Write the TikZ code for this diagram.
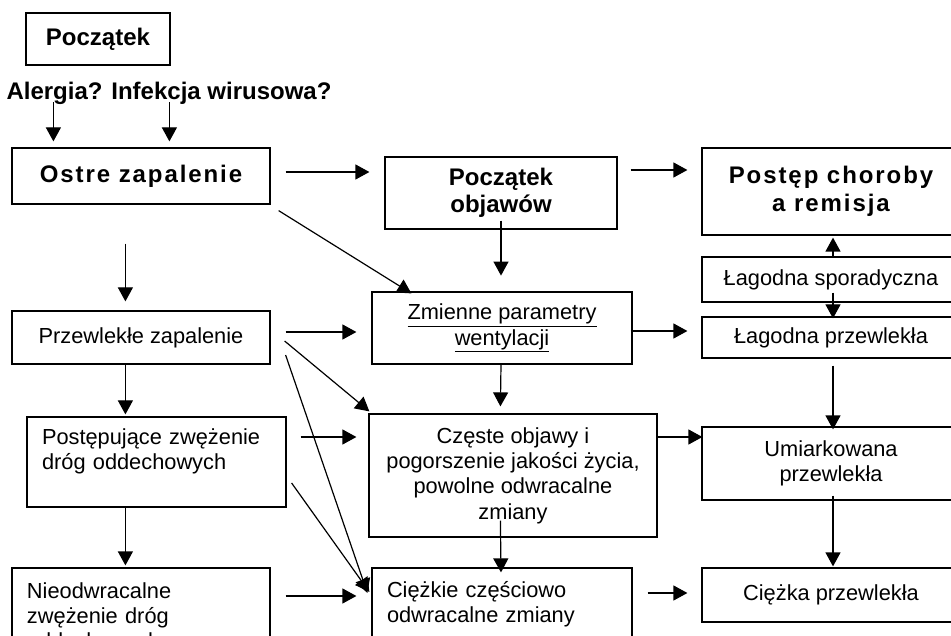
\documentclass[tikz,border=0pt]{standalone}
\usepackage{fontspec}
\setmainfont{Liberation Sans}
\newfontfamily\spacedfont[LetterSpace=8]{Liberation Sans}
\usetikzlibrary{arrows.meta,calc}
\begin{document}
\begin{tikzpicture}[x=1pt,y=-1pt,
  box/.style={draw=black, line width=1.2pt, rectangle, inner sep=0pt, align=center},
  reg/.style={font=\fontsize{21.8}{25.3}\selectfont},
  bld/.style={font=\fontsize{24}{27.5}\selectfont\bfseries},
  spc/.style={font=\fontsize{24}{27.5}\selectfont\spacedfont\bfseries},
  arr/.style={-{Triangle[length=14pt,width=15pt]}, line width=1.2pt},
]
\useasboundingbox (0,0) rectangle (951,636);
\clip (0,0) rectangle (951,636);

% boxes
\node[box,bld,minimum width=144pt,minimum height=52pt] (pocz) at (98,39) {Początek};
\node[bld,inner sep=0pt] (alergia) at (169,93) {Alergia? Infekcja wirusowa?};
\node[box,spc,minimum width=258pt,minimum height=56pt] (ostre) at (141,176) {Ostre zapalenie};
\node[box,bld,minimum width=232pt,minimum height=72pt] (objawy) at (501,193) {Początek\\objawów};
\node[box,spc,minimum width=258pt,minimum height=87pt] (postep) at (831,191.5) {Postęp choroby\\a remisja};
\node[box,reg,minimum width=258pt,minimum height=45pt] (spor) at (831,279.5) {Łagodna sporadyczna};
\node[box,reg,minimum width=258pt,minimum height=41pt] (lprz) at (831,337.5) {Łagodna przewlekła};
\node[box,reg,minimum width=260pt,minimum height=72pt] (zmienne) at (502,328) {\underline{Zmienne parametry}\\\underline{wentylacji}};
\node[box,reg,minimum width=258pt,minimum height=53pt] (przew) at (141,337.5) {Przewlekłe zapalenie};
\node[box,reg,minimum width=259pt,minimum height=90pt,text width=229pt,align=left] (postepuj) at (156.5,462) {Postępujące zwężenie\\dróg oddechowych\\~};
\node[box,reg,minimum width=288pt,minimum height=123pt] (czeste) at (513,475.5) {Częste objawy i\\pogorszenie jakości życia,\\powolne odwracalne\\zmiany};
\node[box,reg,minimum width=258pt,minimum height=73pt] (umiark) at (831,463.5) {Umiarkowana\\przewlekła};
\node[box,reg,minimum width=258pt,minimum height=100pt,text width=228pt,align=left] (nieodw) at (141,618) {Nieodwracalne\\zwężenie dróg\\oddechowych};
\node[box,reg,minimum width=260pt,minimum height=73pt,text width=230pt,align=left] (ciezkie) at (502,604.5) {Ciężkie częściowo\\odwracalne zmiany};
\node[box,reg,minimum width=258pt,minimum height=54pt] (ciezka) at (831,595) {Ciężka przewlekła};

% connectors
\draw[arr] ($(ostre.north west)+(42,-45)$) -- ($(ostre.north west)+(42,-6)$);
\draw[arr] ($(ostre.north west)+(158,-45)$) -- ($(ostre.north west)+(158,-6)$);
\draw[arr] ($(ostre.east)+(15,-4)$) -- ($(objawy.west)+(-15,-21)$);
\draw[arr] ($(objawy.east)+(13,-23)$) -- ($(postep.west)+(-14,-21.5)$);
\draw[arr] ($(ostre.south east)+(8,6)$) -- ($(zmienne.north west)+(40,2)$);
\draw[arr] ($(objawy.south)+(0,-9)$) -- ($(objawy.south)+(0,46)$);
\draw[arr] ($(spor.north)+(2,0)$) -- ($(postep.south)+(2,2)$);
\draw[arr] ($(spor.south)+(2,-10)$) -- ($(lprz.north)+(2,2)$);
\draw[arr] ($(zmienne.east)+(-2,3)$) -- ($(lprz.west)+(-14,-6.5)$);
\draw[arr] ($(lprz.south)+(2,7)$) -- ($(umiark.north)+(2,3)$);
\draw[arr] ($(ostre.south west)+(114,39)$) -- ($(przew.north west)+(114,-9)$);
\draw[arr] ($(przew.east)+(15,-5.5)$) -- ($(zmienne.west)+(-15,4)$);
\draw[arr] ($(przew.east)+(14,3.5)$) -- ($(czeste.north west)+(1,-2)$);
\draw[arr] ($(przew.east)+(15,17.5)$) -- ($(ciezkie.west)+(-4,-11.5)$);
\draw[arr] ($(przew.south west)+(114,0)$) -- ($(postepuj.north west)+(99,-2)$);
\draw[arr] ($(postepuj.east)+(14,-25)$) -- ($(czeste.west)+(-12,-38.5)$);
\draw[arr] ($(postepuj.east)+(5,21)$) -- ($(ciezkie.west)+(-2,-12.5)$);
\draw[arr] ($(postepuj.south west)+(99,0)$) -- ($(nieodw.north west)+(114,-2)$);
\draw[arr] ($(nieodw.east)+(15,-22)$) -- ($(ciezkie.west)+(-15,-8.5)$);
\draw[arr] ($(zmienne.south)+(-1,0)$) -- ($(czeste.north west)+(132,-7)$);
\draw[arr] ($(czeste.south west)+(132,-17)$) -- ($(ciezkie.north)+(-1,5)$);
\draw[arr] ($(czeste.east)+(0,-38.5)$) -- ($(umiark.west)+(1,-26.5)$);
\draw[arr] ($(umiark.south)+(2,-5)$) -- ($(ciezka.north)+(2,-1)$);
\draw[arr] ($(ciezkie.east)+(15,-11.5)$) -- ($(ciezka.west)+(-14,-2)$);
\end{tikzpicture}
\end{document}
